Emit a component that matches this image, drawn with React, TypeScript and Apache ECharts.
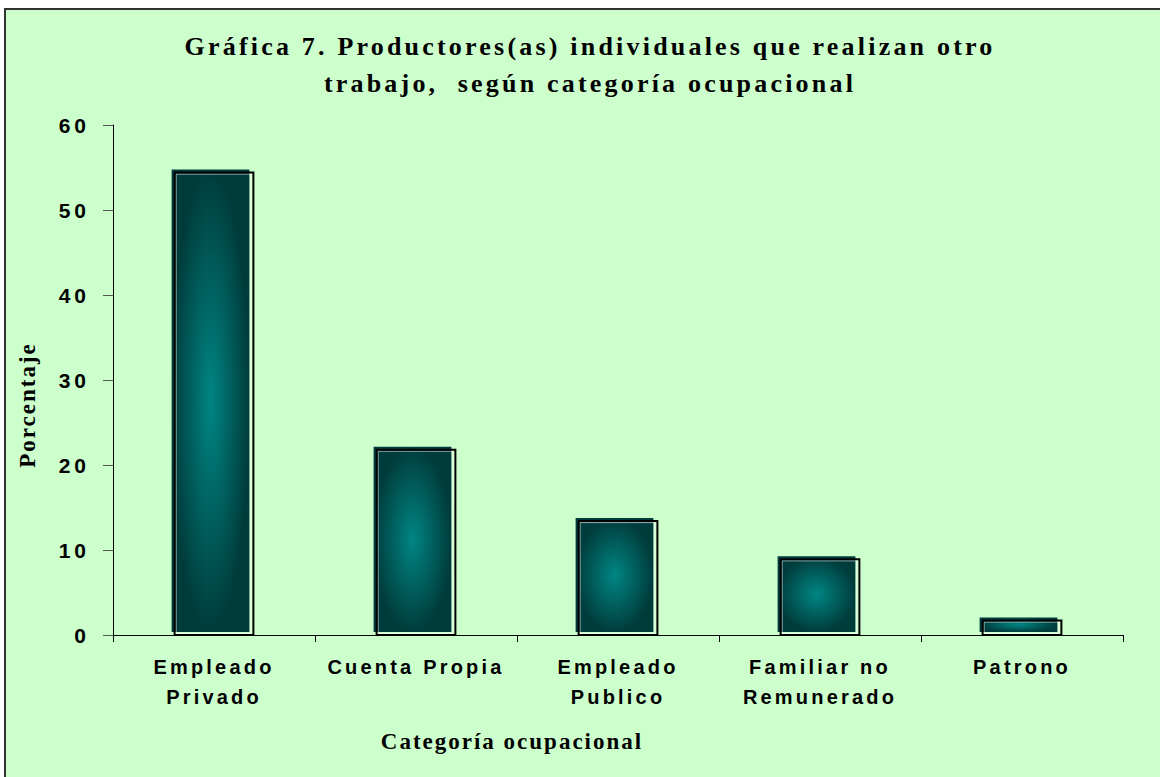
import React, { useEffect, useRef } from "react";
import * as echarts from "echarts";

const categories = [
  "Empleado\nPrivado",
  "Cuenta Propia",
  "Empleado\nPublico",
  "Familiar no\nRemunerado",
  "Patrono",
];
const values = [54.4, 21.8, 13.4, 8.9, 1.7];
const yTicks = { min: 0, max: 60, interval: 10 };
const titleText =
  "Gráfica 7. Productores(as) individuales que realizan otro\ntrabajo,  según categoría ocupacional";
const xName = "Categoría ocupacional";
const yName = "Porcentaje";

const SERIF = "'Liberation Serif', 'Times New Roman', serif";
const SANS = "'Liberation Sans', Arial, sans-serif";

export default function App() {
  const ref = useRef<HTMLDivElement>(null);

  useEffect(() => {
    document.body.style.margin = "0";
    const el = ref.current!;
    const chart = echarts.init(el, null, { renderer: "svg" });

    const grad = new echarts.graphic.RadialGradient(0.5, 0.5, 0.5, [
      { offset: 0, color: "#008683" },
      { offset: 1, color: "#003c3c" },
    ]);

    chart.setOption({
      animation: false,
      backgroundColor: "transparent",
      grid: { left: 113, right: 37, top: 125, bottom: 142 },
      graphic: [
        {
          type: "text",
          x: 590,
          y: 28,
          style: {
            text: titleText,
            font: `bold 26px ${SERIF}`,
            fill: "#000",
            align: "center",
            verticalAlign: "top",
            lineHeight: 37,
          },
        },
        {
          type: "text",
          x: 512,
          y: 741,
          style: {
            text: xName,
            font: `bold 23px ${SERIF}`,
            fill: "#000",
            align: "center",
            verticalAlign: "middle",
          },
        },
        {
          type: "text",
          x: 27,
          y: 405,
          rotation: Math.PI / 2,
          style: {
            text: yName,
            font: `bold 23px ${SERIF}`,
            fill: "#000",
            align: "center",
            verticalAlign: "middle",
          },
        },
      ],
      xAxis: {
        type: "category",
        data: categories,
        axisLine: { lineStyle: { color: "#000", width: 1 } },
        axisTick: { show: true, length: 7, lineStyle: { color: "#000" } },
        axisLabel: {
          interval: 0,
          margin: 17,
          color: "#000",
          fontFamily: SANS,
          fontWeight: "bold",
          fontSize: 20,
          lineHeight: 30,
        },
        splitLine: { show: false },
      },
      yAxis: {
        type: "value",
        min: yTicks.min,
        max: yTicks.max,
        interval: yTicks.interval,
        axisLine: { show: true, lineStyle: { color: "#000", width: 1 } },
        axisTick: { show: true, length: 10, lineStyle: { color: "#555" } },
        axisLabel: {
          margin: 23,
          color: "#000",
          fontFamily: SANS,
          fontWeight: "bold",
          fontSize: 21,
        },
        splitLine: { show: false },
      },
      series: [
        {
          type: "custom",
          data: values.map((v, i) => [i, v]),
          encode: { x: 0, y: 1 },
          renderItem: (params: any, api: any) => {
            const idx = api.value(0);
            const v = api.value(1);
            const top = api.coord([idx, v]);
            const bottom = api.coord([idx, 0]);
            const w = api.size([1, 0])[0] * 0.39;
            const x = top[0] - w / 2;
            const h = bottom[1] - top[1];
            return {
              type: "group",
              children: [
                {
                  type: "rect",
                  shape: { x: x - 3, y: top[1] - 3, width: w - 1, height: h },
                  style: { fill: grad },
                },
                {
                  type: "rect",
                  shape: { x: x + 1.5, y: top[1] + 1.5, width: w - 4, height: h - 3 },
                  style: { fill: "none", stroke: "rgba(255,255,255,0.6)", lineWidth: 1 },
                },
                {
                  type: "rect",
                  shape: { x, y: top[1], width: w, height: h },
                  style: { fill: "none", stroke: "#000", lineWidth: 2 },
                },
              ],
            };
          },
        },
      ],
    });

    const apply = () => {
      el.querySelectorAll("text").forEach((t) => {
        const cs = getComputedStyle(t);
        const fam = cs.fontFamily || "";
        const fs = parseFloat(cs.fontSize || "0");
        let ls = "3.2px";
        if (fam.includes("Serif")) ls = fs >= 25 ? "3.2px" : "2px";
        else if (fs >= 21) ls = "4px";
        (t as SVGTextElement).style.letterSpacing = ls;
      });
    };
    apply();
    chart.on("finished", apply);

    return () => {
      chart.dispose();
    };
  }, []);

  return (
    <div
      style={{
        position: "relative",
        width: 1160,
        height: 777,
        overflow: "hidden",
        background: "#fff",
      }}
    >
      <div
        style={{
          position: "absolute",
          left: 4,
          top: 8,
          width: 1200,
          height: 820,
          background: "#ccffcc",
          border: "2px solid #333",
        }}
      />
      <div
        ref={ref}
        style={{ position: "absolute", left: 0, top: 0, width: 1160, height: 777 }}
      />
    </div>
  );
}
